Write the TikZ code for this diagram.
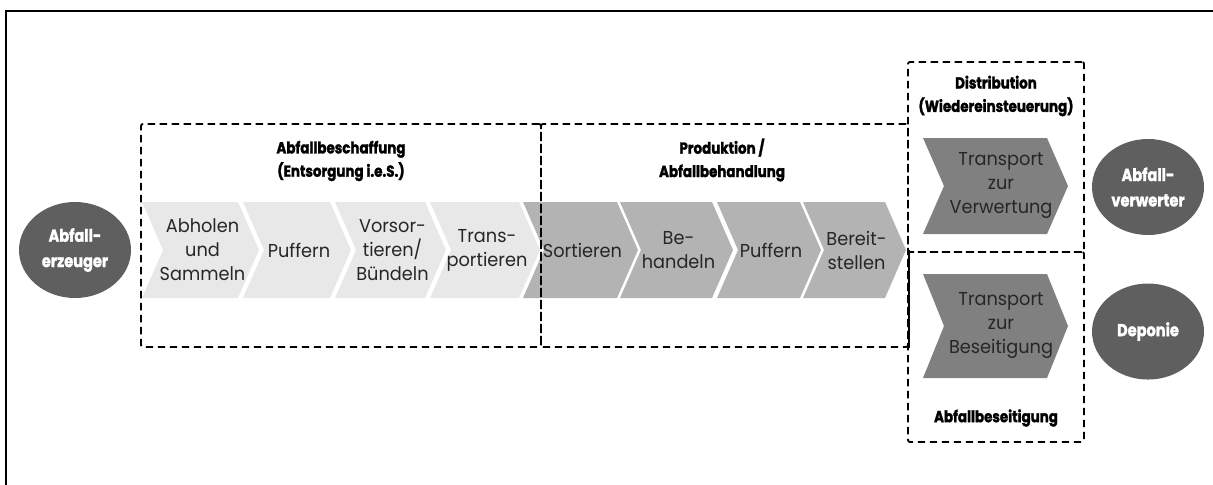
\documentclass[tikz,border=0pt]{standalone}
\usepackage{fontspec}
\setmainfont{Poppins}[FakeStretch=0.95]
\newfontfamily\headfont{Poppins}[FakeStretch=0.84,FakeBold=1.6]
\usepackage{tikz}
\usetikzlibrary{shapes,positioning,fit}
\definecolor{stagelight}{HTML}{E8E8E8}
\definecolor{stagemid}{HTML}{B3B3B3}
\definecolor{stagedark}{HTML}{808080}
\definecolor{partyfill}{HTML}{5F5F5F}
\tikzset{
  every picture/.style = {
    x = 0.75pt,
    y = -0.75pt,
    node distance = 18pt and 18pt,
  }
  ,
  stage/.style = {
    inner sep = 0pt,
    align = center,
    text = black!85,
    font = \fontsize{14}{18}\selectfont
  }
  , % producer and receivers
  party/.style = {
    ellipse,
    fill = partyfill,
    text = white,
    minimum width = 84pt,
    minimum height = 72pt,
    inner sep = 0pt,
    align = center,
    font = \headfont\bfseries\fontsize{13}{19}\selectfont
  }
  , % dashed phase boxes
  phase/.style = {
    draw,
    dash pattern = on 5.5pt off 3.5pt,
    line width = 1.4pt,
    rounded corners = 1.5pt,
    inner sep = 0pt
  }
  , % titles of phases
  label-phase/.style = {
    align = center,
    font = \headfont\bfseries\fontsize{12}{17.5}\selectfont
  }
}
% chevron: #1 colour, #2 left x, #3 width, #4 top y, #5 bottom y
\newcommand{\chevron}[5]{%
  \fill [#1] (#2,#4) -- (#2+#3-21,#4) -- (#2+#3,{(#4+#5)/2}) -- (#2+#3-21,#5)
    -- (#2,#5) -- (#2+21,{(#4+#5)/2}) -- cycle;
}

\begin{document}
\begin{tikzpicture}
    \useasboundingbox (0,0) rectangle (1213,485);
    \draw [line width = 1.5pt] (6,485) -- (6,11) -- (1213,11);

    \foreach \x/\w/\name/\txt in {142/117/abholen/{Abholen\\und\\Sammeln},
        243/108/puffernin/Puffern, 335/111/vorsortieren/{Vorsor-\\tieren/\\Bündeln},
        430/110/transportieren/{Trans-\\portieren}}
      {
        \chevron{stagelight}{\x}{\w}{202}{298}
        \node [stage] (\name) at (\x+\w/2+2,250) {\txt};
      }
    \foreach \x/\w/\name/\txt in {523/115/sortieren/Sortieren,
        620/113/behandeln/{Be-\\handeln}, 717/104/puffernout/Puffern,
        803/103/bereitstellen/{Bereit-\\stellen}}
      {
        \chevron{stagemid}{\x}{\w}{202}{298}
        \node [stage] (\name) at (\x+\w/2+2,250) {\txt};
      }

    \chevron{stagedark}{923}{145}{138}{234}
    \node [stage] (verwertung) at (1001,186) {Transport\\zur\\Verwertung};
    \chevron{stagedark}{923}{145}{274}{378}
    \node [stage] (beseitigung) at (1001,326) {Transport\\zur\\Beseitigung};

    \node [phase, fit = {(141,124) (541,347)}] (beschaffung) {};
    \node [phase, fit = {(541,124) (908,347)}] (produktion) {};
    \node [phase, fit = {(908,62) (1084,252)}] (distribution) {};
    \node [phase, fit = {(908,252) (1084,442)}] (beseitigungbox) {};

    \node [label-phase] (beschaffungtitle) at (341,161) {Abfallbeschaffung\\(Entsorgung i.e.S.)};
    \node [label-phase] (produktiontitle) at (722,160) {Produktion /\\Abfallbehandlung};
    \node [label-phase] (distributiontitle) at (996,96) {Distribution\\(Wiedereinsteuerung)};
    \node [label-phase] (beseitigungtitle) at (996,418) {Abfallbeseitigung};

    \node [party] (erzeuger) at (75,250) {Abfall-\\erzeuger};
    \node [party] (verwerter) at (1148,187) {Abfall-\\verwerter};
    \node [party, below = 36pt of verwerter] (deponie) {Deponie};

    \draw [line width = 1.4pt] (produktion.east |- bereitstellen) -- (produktion.south east);
\end{tikzpicture}
\end{document}
